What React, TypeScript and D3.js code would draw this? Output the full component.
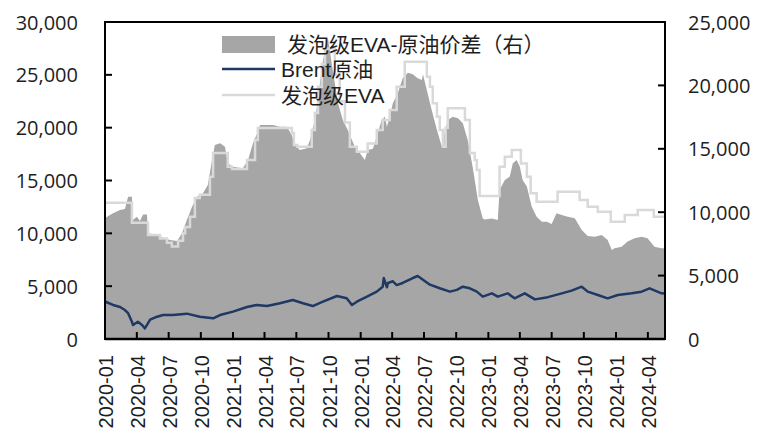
import React from 'react';
import * as d3 from 'd3';

const W = 759;
const H = 433;
const PLOT = { left: 105, right: 665, top: 22, bottom: 339 };

const xTickLabels = ['2020-01','2020-04','2020-07','2020-10','2021-01','2021-04','2021-07','2021-10','2022-01','2022-04','2022-07','2022-10','2023-01','2023-04','2023-07','2023-10','2024-01','2024-04'];
const leftTicks = [0, 5000, 10000, 15000, 20000, 25000, 30000];
const rightTicks = [0, 5000, 10000, 15000, 20000, 25000];

const legendLabels = ['发泡级EVA-原油价差（右）', 'Brent原油', '发泡级EVA'];

// 发泡级EVA-原油价差 (right axis)
const spreadDates = ['2020-01-01','2020-01-07','2020-01-24','2020-02-13','2020-02-27','2020-03-07','2020-03-18','2020-03-21','2020-04-01','2020-04-10','2020-04-19','2020-04-30','2020-05-03','2020-05-29','2020-06-15','2020-07-05','2020-07-25','2020-08-08','2020-08-22','2020-09-06','2020-09-20','2020-10-07','2020-10-21','2020-11-02','2020-11-10','2020-11-25','2020-12-09','2020-12-17','2021-01-01','2021-01-29','2021-02-13','2021-02-27','2021-03-13','2021-03-19','2021-04-25','2021-05-15','2021-06-04','2021-06-18','2021-06-27','2021-07-11','2021-07-31','2021-08-09','2021-08-23','2021-09-01','2021-09-12','2021-09-21','2021-09-29','2021-10-13','2021-10-28','2021-11-11','2021-11-25','2021-12-07','2021-12-15','2021-12-30','2022-01-13','2022-01-21','2022-02-05','2022-02-16','2022-03-02','2022-03-11','2022-03-17','2022-03-25','2022-04-03','2022-04-17','2022-05-01','2022-05-16','2022-05-30','2022-06-13','2022-06-25','2022-06-28','2022-07-09','2022-07-23','2022-08-07','2022-08-21','2022-08-29','2022-09-07','2022-09-21','2022-10-06','2022-10-20','2022-11-03','2022-11-17','2022-12-02','2022-12-16','2022-12-22','2023-01-11','2023-01-28','2023-02-02','2023-02-17','2023-03-03','2023-03-12','2023-03-23','2023-04-01','2023-04-09','2023-04-21','2023-05-05','2023-05-19','2023-06-03','2023-06-17','2023-07-01','2023-07-15','2023-07-30','2023-08-16','2023-09-05','2023-09-25','2023-10-12','2023-11-01','2023-11-21','2023-12-08','2023-12-20','2023-12-28','2024-01-17','2024-02-03','2024-02-23','2024-03-14','2024-03-31','2024-04-20','2024-05-10','2024-05-20'];
const spreadValues = [9500,9650,9910,10170,10260,11220,11220,9380,9650,9300,9820,9820,8330,8240,7990,7810,7720,8330,9380,10430,11220,11490,12140,14120,15300,15430,15170,13860,13590,13460,14120,15430,16350,16880,16880,16740,16740,16090,15300,14900,15040,15690,17270,18850,21470,22790,23800,21210,18610,17270,16480,15690,15170,14640,14120,14900,15000,15950,17270,17530,16740,17530,18590,19380,20560,21000,20870,20560,20430,20870,19640,18060,16480,15170,16220,17270,17530,17400,17010,15690,13590,10960,9500,9430,9500,9380,11750,12540,12800,13860,14120,13590,12540,12020,10430,9650,9250,9250,9070,9910,9780,9650,9520,8600,8120,8070,8200,7810,7020,7150,7280,7680,7940,8070,7940,7280,7150,7150];

// Brent原油 (left axis)
const brentDates = ['2020-01-01','2020-01-24','2020-02-13','2020-02-27','2020-03-07','2020-03-18','2020-03-21','2020-04-04','2020-04-16','2020-04-24','2020-05-09','2020-05-29','2020-06-15','2020-07-13','2020-08-22','2020-09-28','2020-11-05','2020-11-25','2021-01-01','2021-02-10','2021-03-10','2021-04-08','2021-05-15','2021-06-21','2021-07-20','2021-08-17','2021-09-15','2021-10-25','2021-11-22','2021-12-07','2021-12-21','2022-01-19','2022-02-16','2022-03-05','2022-03-08','2022-03-17','2022-03-20','2022-04-03','2022-04-14','2022-05-01','2022-05-30','2022-06-13','2022-06-28','2022-07-18','2022-08-15','2022-09-13','2022-10-03','2022-10-20','2022-11-09','2022-11-29','2022-12-16','2023-01-11','2023-01-28','2023-02-25','2023-03-17','2023-04-15','2023-05-14','2023-06-20','2023-07-30','2023-08-27','2023-09-25','2023-10-12','2023-11-10','2023-12-08','2024-01-06','2024-02-15','2024-03-14','2024-04-06','2024-05-10','2024-05-20'];
const brentValues = [3550,3220,3030,2740,2440,1640,1320,1640,1320,1010,1830,2110,2270,2270,2400,2110,1960,2270,2590,3030,3220,3120,3380,3690,3380,3120,3530,4070,3850,3220,3530,4010,4480,4950,5770,4900,5300,5460,5100,5300,5770,5960,5600,5140,4800,4480,4650,4950,4800,4480,4010,4320,4010,4320,3850,4320,3750,3960,4320,4580,4950,4480,4160,3850,4160,4320,4480,4800,4320,4300];

// 发泡级EVA (left axis, step)
const evaDates = ['2020-01-01','2020-03-18','2020-05-03','2020-06-06','2020-06-26','2020-07-10','2020-07-28','2020-08-11','2020-08-17','2020-08-31','2020-09-14','2020-09-28','2020-10-27','2020-11-05','2020-12-17','2020-12-29','2021-02-10','2021-03-05','2021-03-13','2021-06-18','2021-06-24','2021-07-03','2021-08-14','2021-08-23','2021-09-01','2021-09-12','2021-09-21','2021-10-19','2021-11-02','2021-11-17','2021-12-01','2021-12-21','2022-01-21','2022-02-16','2022-03-05','2022-03-25','2022-04-14','2022-05-07','2022-07-09','2022-07-18','2022-07-26','2022-08-07','2022-08-15','2022-08-24','2022-09-01','2022-09-07','2022-10-26','2022-11-09','2022-11-23','2022-11-29','2022-12-07','2023-02-02','2023-02-17','2023-03-09','2023-04-04','2023-04-21','2023-05-02','2023-05-19','2023-07-18','2023-09-19','2023-10-12','2023-11-10','2023-12-17','2024-01-26','2024-03-03','2024-04-18','2024-05-20'];
const evaValues = [12900,11000,9850,9500,9100,8750,9300,10000,10600,11570,13340,13650,15360,17600,16300,16090,16940,18830,19970,19500,18360,18200,19780,21390,23880,26000,27500,25000,22500,20500,18200,17730,18500,19780,20730,21670,23880,26240,24830,23880,22300,21040,19780,18200,20000,21830,20730,17600,16940,15990,13530,16300,17250,17890,16620,15360,13800,13000,13940,13150,12520,12050,11100,11730,12210,11570,11570];

const parse = d3.timeParse('%Y-%m-%d');

export default function App() {
  const x = d3.scaleTime()
    .domain([parse('2020-01-01') as Date, parse('2024-05-20') as Date])
    .range([PLOT.left, PLOT.right]);
  const yL = d3.scaleLinear().domain([0, 30000]).range([PLOT.bottom, PLOT.top]);
  const yR = d3.scaleLinear().domain([0, 25000]).range([PLOT.bottom, PLOT.top]);

  const spread = spreadDates.map((d, i) => ({ d: parse(d) as Date, v: spreadValues[i] }));
  const brent = brentDates.map((d, i) => ({ d: parse(d) as Date, v: brentValues[i] }));
  const eva = evaDates.map((d, i) => ({ d: parse(d) as Date, v: evaValues[i] }));

  const areaGen = d3.area<{ d: Date; v: number }>()
    .x(p => x(p.d)).y0(yR(0)).y1(p => yR(p.v));
  const brentLine = d3.line<{ d: Date; v: number }>().x(p => x(p.d)).y(p => yL(p.v));
  const evaLine = d3.line<{ d: Date; v: number }>().x(p => x(p.d)).y(p => yL(p.v)).curve(d3.curveStepAfter);

  const fmt = d3.format(',');
  const tickFont = "'Open Sans', 'Noto Sans', sans-serif";
  const legendFont = "'Liberation Sans', 'Noto Sans CJK SC', sans-serif";
  const txt = '#1e1e1e';

  return (
    <svg width={W} height={H} style={{ position: 'absolute', left: 0, top: 0, background: '#fff' }}>
      <path d={areaGen(spread) || ''} fill="#a6a6a6" />
      <path d={brentLine(brent) || ''} fill="none" stroke="#1f3864" strokeWidth={2.5} strokeLinejoin="round" />
      <path d={evaLine(eva) || ''} fill="none" stroke="#d9d9d9" strokeWidth={2.5} />

      {/* frame */}
      <rect x={PLOT.left} y={PLOT.top} width={PLOT.right - PLOT.left} height={PLOT.bottom - PLOT.top} fill="none" stroke="#000" strokeWidth={2} />

      {/* left axis */}
      {leftTicks.map(t => (
        <g key={'l' + t}>
          <line x1={PLOT.left} x2={PLOT.left + 7} y1={yL(t)} y2={yL(t)} stroke="#000" strokeWidth={2} />
          <text x={78} y={yL(t)} textAnchor="end" dominantBaseline="central" fontFamily={tickFont} fontSize={20} fill={txt}>{fmt(t)}</text>
        </g>
      ))}
      {/* right axis */}
      {rightTicks.map(t => (
        <g key={'r' + t}>
          <line x1={PLOT.right - 7} x2={PLOT.right} y1={yR(t)} y2={yR(t)} stroke="#000" strokeWidth={2} />
          <text x={688} y={yR(t)} textAnchor="start" dominantBaseline="central" fontFamily={tickFont} fontSize={20} fill={txt}>{fmt(t)}</text>
        </g>
      ))}
      {/* x axis */}
      {xTickLabels.map(lab => {
        const px = x(parse(lab + '-01') as Date);
        return (
          <g key={lab}>
            <line x1={px} x2={px} y1={PLOT.bottom} y2={PLOT.bottom - 7} stroke="#000" strokeWidth={2} />
            <text transform={`translate(${px + 8},355) rotate(-90)`} textAnchor="end" fontFamily="'Liberation Sans', Arial, sans-serif" fontSize={20} fill={txt}>{lab}</text>
          </g>
        );
      })}
      <line x1={PLOT.left} x2={PLOT.right} y1={PLOT.bottom} y2={PLOT.bottom} stroke="#000" strokeWidth={2.5} />

      {/* legend */}
      <rect x={222} y={36} width={53} height={17} fill="#a6a6a6" />
      <text x={287} y={44} dominantBaseline="central" fontFamily={legendFont} fontSize={21} fill={txt}>{legendLabels[0]}</text>
      <line x1={222} x2={275} y1={69} y2={69} stroke="#1f3864" strokeWidth={2.5} />
      <text x={281} y={69.5} dominantBaseline="central" fontFamily={legendFont} fontSize={21} fill={txt}>{legendLabels[1]}</text>
      <line x1={222} x2={275} y1={95} y2={95} stroke="#d9d9d9" strokeWidth={2.5} />
      <text x={281} y={95} dominantBaseline="central" fontFamily={legendFont} fontSize={21} fill={txt}>{legendLabels[2]}</text>
    </svg>
  );
}
